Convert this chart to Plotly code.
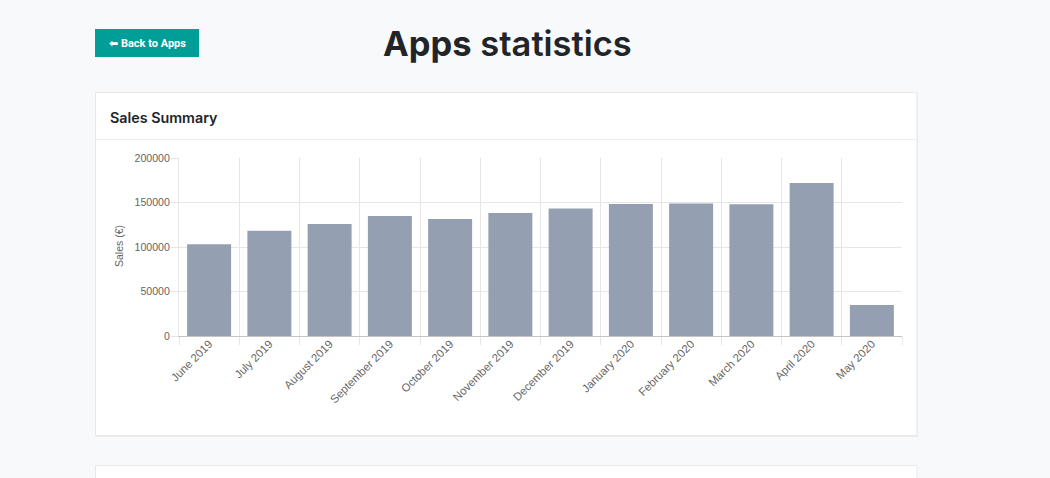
import plotly.graph_objects as go

months = ["June 2019", "July 2019", "August 2019", "September 2019", "October 2019",
          "November 2019", "December 2019", "January 2020", "February 2020",
          "March 2020", "April 2020", "May 2020"]
sales = [103000, 118300, 125800, 134800, 131500, 138200, 143300, 148300, 148900,
         148000, 171900, 34800]
y_ticks = [0, 50000, 100000, 150000, 200000]

W, H = 1050, 478

def px(x):
    return x / W

def py(y):
    return 1 - y / H

fig = go.Figure()
fig.add_trace(go.Bar(
    x=months, y=sales,
    marker=dict(color="#949fb2", line=dict(width=0)),
    hoverinfo="x+y",
))

shapes = [
    # card shadow + card
    dict(type="rect", xref="paper", yref="paper", x0=px(95), x1=px(918), y0=py(437), y1=py(92),
         fillcolor="#ececec", line=dict(width=0), layer="below"),
    dict(type="rect", xref="paper", yref="paper", x0=px(95.5), x1=px(917), y0=py(435.5), y1=py(92.5),
         fillcolor="#ffffff", line=dict(color="#e8e8e8", width=1), layer="below"),
    dict(type="line", xref="paper", yref="paper", x0=px(96), x1=px(917), y0=py(139.5), y1=py(139.5),
         line=dict(color="#eeeeee", width=1), layer="below"),
    # second card
    dict(type="rect", xref="paper", yref="paper", x0=px(95.5), x1=px(917), y0=py(490), y1=py(465.5),
         fillcolor="#ffffff", line=dict(color="#e8e8e8", width=1), layer="below"),
    # button
    dict(type="rect", xref="paper", yref="paper", x0=px(95), x1=px(199), y0=py(57), y1=py(29),
         fillcolor="#009e97", line=dict(width=0), layer="below"),
]

annotations = [
    dict(text="<b>Apps</b> statistics", xref="paper", yref="paper", x=px(507), y=py(43),
         xanchor="center", yanchor="middle", showarrow=False,
         font=dict(family="Inter, Noto Sans, sans-serif", size=34.5, color="#212529", weight=600)),
    dict(text="<b><span style='font-family:DejaVu Sans'>⬅</span> Back to Apps</b>",
         xref="paper", yref="paper", x=px(147), y=py(43),
         xanchor="center", yanchor="middle", showarrow=False,
         font=dict(family="Roboto, Noto Sans, sans-serif", size=11, color="#ffffff")),
    dict(text="Sales Summary", xref="paper", yref="paper", x=px(107.5), y=py(117),
         xanchor="left", yanchor="middle", showarrow=False,
         font=dict(family="Inter, Noto Sans, sans-serif", size=14.3, color="#212529", weight=600)),
    dict(text="Sales (€)", xref="paper", yref="paper", x=px(119), y=py(246),
         xanchor="center", yanchor="middle", showarrow=False, textangle=-90,
         font=dict(family="Liberation Sans, Arial, sans-serif", size=10.5, color="#666666")),
]

fig.update_layout(
    width=W, height=H,
    margin=dict(l=0, r=0, t=0, b=0),
    paper_bgcolor="#f8f9fa",
    plot_bgcolor="#ffffff",
    bargap=0.27,
    showlegend=False,
    shapes=shapes,
    annotations=annotations,
    font=dict(family="Liberation Sans, Arial, sans-serif", size=12, color="#666666"),
    xaxis=dict(
        domain=[px(179), px(902)],
        type="category",
        automargin=False,
        tickson="boundaries",
        showgrid=True, gridcolor="#e6e6e6", gridwidth=1,
        ticks="outside", ticklen=8, tickcolor="#e6e6e6",
        ticklabelstandoff=-4,
        tickangle=-45,
        showline=True, linecolor="#c4c4c4", linewidth=1,
        tickfont=dict(size=11.3, color="#666666"),
        fixedrange=True,
    ),
    yaxis=dict(
        domain=[py(336), py(158)],
        range=[0, 200000],
        automargin=False,
        tickvals=y_ticks,
        tickformat="d",
        showgrid=True, gridcolor="#e6e6e6", gridwidth=1,
        zeroline=False,
        ticks="outside", ticklen=7, tickcolor="#e6e6e6",
        ticklabelstandoff=-1,
        showline=True, linecolor="#e6e6e6", linewidth=1,
        tickfont=dict(size=10.6, color="#666666"),
        fixedrange=True,
    ),
)

fig.write_html("out.html")
